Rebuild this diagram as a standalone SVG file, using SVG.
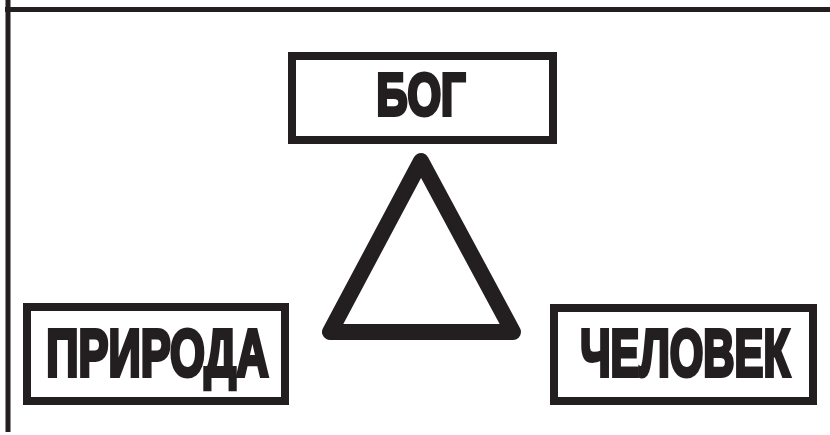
<svg xmlns="http://www.w3.org/2000/svg" width="830" height="435" viewBox="0 0 830 435">
<style>
.frame{stroke:#231f20;stroke-width:5;fill:none}
.box{fill:#fff;stroke:#231f20;stroke-width:8}
.lbl{font-family:"Liberation Sans","Arial",sans-serif;font-weight:bold;fill:#231f20;stroke:#231f20;stroke-width:4;stroke-linejoin:miter;text-anchor:middle}
.tri{fill:none;stroke:#231f20;stroke-width:16;stroke-linejoin:round}
</style>
<rect width="830" height="435" fill="#fff"/>
<g id="frame">
<line class="frame" x1="8" y1="0" x2="8" y2="432"/>
<line class="frame" x1="5" y1="9.5" x2="830" y2="9.5"/>
</g>
<g id="connectors">
<polygon class="tri" points="421,161 330,332 513,332"/>
</g>
<g id="node-bog">
<rect class="box" x="292" y="56" width="261" height="84"/>
<text class="lbl" transform="translate(421,115) scale(0.72,1)" x="0" y="0" font-size="60">БОГ</text>
</g>
<g id="node-priroda">
<rect class="box" x="27" y="307" width="258" height="94"/>
<text class="lbl" transform="translate(157.5,376) scale(0.68,1)" x="0" y="0" font-size="66">ПРИРОДА</text>
</g>
<g id="node-chelovek">
<rect class="box" x="554" y="308" width="259" height="93"/>
<text class="lbl" transform="translate(685,376) scale(0.655,1)" x="0" y="0" font-size="66">ЧЕЛОВЕК</text>
</g>
</svg>
